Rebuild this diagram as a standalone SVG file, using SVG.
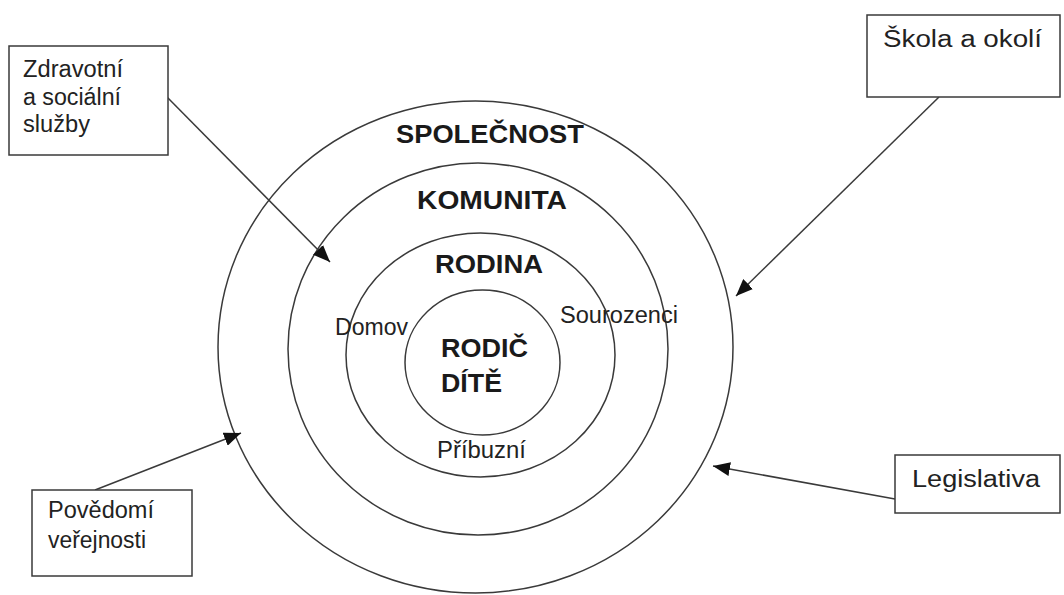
<svg xmlns="http://www.w3.org/2000/svg" width="1064" height="595" viewBox="0 0 1064 595">
  <style>
    .ring { fill: none; stroke: #3a3a3a; stroke-width: 1.5; }
    .box { fill: #fff; stroke: #3a3a3a; stroke-width: 1.5; }
    .conn { fill: none; stroke: #3a3a3a; stroke-width: 1.5; marker-end: url(#arrow); }
    .lbl { font-family: "Liberation Sans", Arial, sans-serif; font-size: 23px; fill: #222; }
    .big { font-family: "Liberation Sans", Arial, sans-serif; font-size: 25px; font-weight: bold; fill: #1a1a1a; }
  </style>
  <defs>
    <marker id="arrow" markerUnits="userSpaceOnUse" markerWidth="18" markerHeight="14" refX="17" refY="7" orient="auto">
      <path d="M0,0 L17,7 L0,14 Z" fill="#111"/>
    </marker>
  </defs>

  <rect width="1064" height="595" fill="#fff"/>

  <!-- concentric levels -->
  <g id="rings">
    <ellipse id="spolecnost" class="ring" cx="475.5" cy="347" rx="257.5" ry="246"/>
    <ellipse id="komunita" class="ring" cx="478" cy="349" rx="190" ry="186"/>
    <ellipse id="rodina" class="ring" cx="480.5" cy="355" rx="134.5" ry="122"/>
    <ellipse id="rodic-dite" class="ring" cx="482.5" cy="362.5" rx="77.5" ry="72.5"/>
  </g>

  <g id="ring-labels">
    <text class="big" x="396" y="143" textLength="188" lengthAdjust="spacingAndGlyphs">SPOLEČNOST</text>
    <text class="big" x="417" y="209" textLength="150" lengthAdjust="spacingAndGlyphs">KOMUNITA</text>
    <text class="big" x="435" y="273" textLength="108" lengthAdjust="spacingAndGlyphs">RODINA</text>
    <text class="big" x="441" y="357" textLength="87" lengthAdjust="spacingAndGlyphs">RODIČ</text>
    <text class="big" x="441" y="392" textLength="61" lengthAdjust="spacingAndGlyphs">DÍTĚ</text>
    <text class="lbl" x="335" y="335" textLength="73" lengthAdjust="spacingAndGlyphs">Domov</text>
    <text class="lbl" x="560" y="323" textLength="118" lengthAdjust="spacingAndGlyphs">Sourozenci</text>
    <text class="lbl" x="437" y="458" textLength="89" lengthAdjust="spacingAndGlyphs">Příbuzní</text>
  </g>

  <!-- connectors -->
  <g id="connectors">
    <line class="conn" x1="166" y1="96" x2="330" y2="262"/>
    <line class="conn" x1="939" y1="97" x2="736" y2="296"/>
    <line class="conn" x1="95" y1="490" x2="241" y2="433"/>
    <line class="conn" x1="895" y1="499" x2="713" y2="466"/>
  </g>

  <g id="zdravotni">
    <rect class="box" x="9" y="46" width="159" height="109"/>
    <text class="lbl" x="23" y="77" textLength="100" lengthAdjust="spacingAndGlyphs">Zdravotní</text>
    <text class="lbl" x="23" y="105" textLength="98" lengthAdjust="spacingAndGlyphs">a sociální</text>
    <text class="lbl" x="23" y="132" textLength="67" lengthAdjust="spacingAndGlyphs">služby</text>
  </g>

  <g id="skola">
    <rect class="box" x="867" y="15" width="193" height="82"/>
    <text class="lbl" x="883" y="47" textLength="159" lengthAdjust="spacingAndGlyphs">Škola a okolí</text>
  </g>

  <g id="povedomi">
    <rect class="box" x="32" y="490" width="160" height="86"/>
    <text class="lbl" x="48" y="518" textLength="106" lengthAdjust="spacingAndGlyphs">Povědomí</text>
    <text class="lbl" x="48" y="548" textLength="98" lengthAdjust="spacingAndGlyphs">veřejnosti</text>
  </g>

  <g id="legislativa">
    <rect class="box" x="895" y="455" width="165" height="58"/>
    <text class="lbl" x="912" y="487" textLength="128" lengthAdjust="spacingAndGlyphs">Legislativa</text>
  </g>
</svg>
